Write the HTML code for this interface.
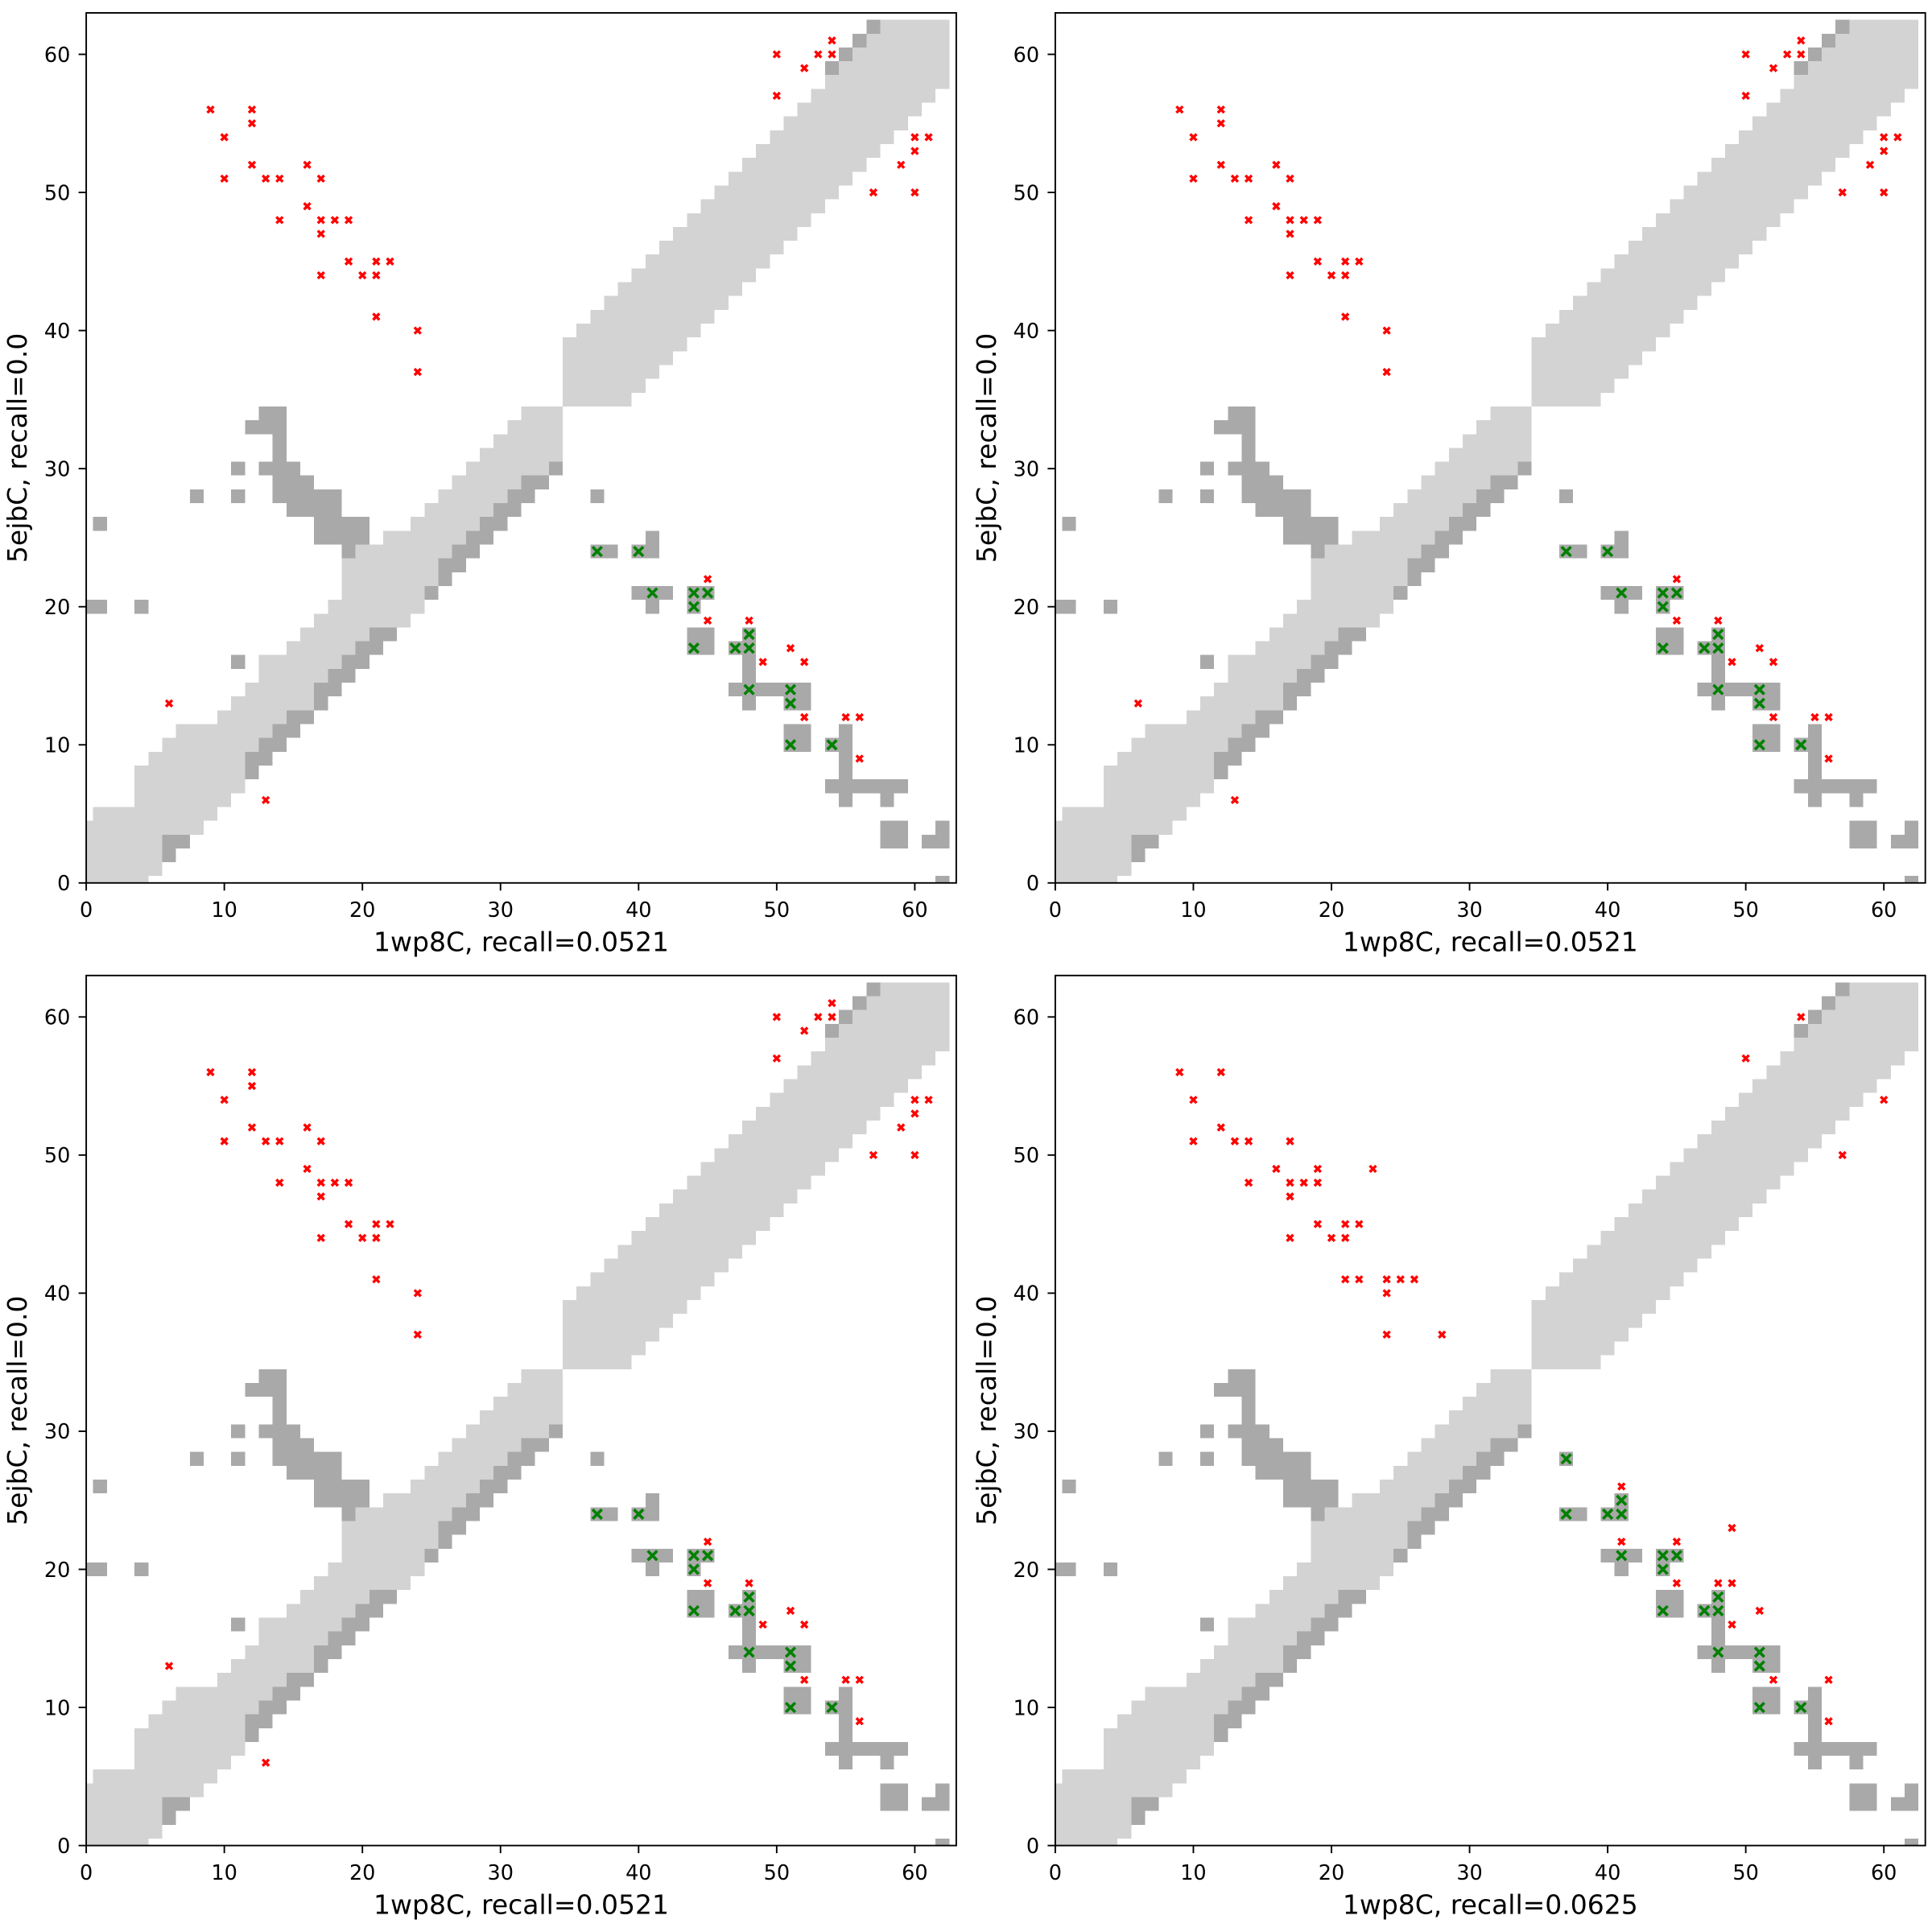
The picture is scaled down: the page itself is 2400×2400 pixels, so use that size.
<!DOCTYPE html>
<html><head><meta charset="utf-8"><style>
html,body{margin:0;padding:0;background:#fff;}
svg{display:block;}
text{font-family:"DejaVu Sans","Liberation Sans",sans-serif;fill:#000;}
.t{font-size:25.5px;}
.l{font-size:33px;}
.L{fill:#d3d3d3;}
.D{fill:#a9a9a9;}
</style></head><body>
<svg width="2400" height="2400" viewBox="0 0 2400 2400" xmlns="http://www.w3.org/2000/svg" xmlns:xlink="http://www.w3.org/1999/xlink">
<defs>
<clipPath id="cp"><rect x="0" y="0" width="63" height="63"/></clipPath>
<path id="rx" d="M-.23-.23L.23.23M-.23.23L.23-.23" stroke="#ff0000" stroke-width=".2" fill="none"/>
<path id="gx" d="M-.34-.34L.34.34M-.34.34L.34-.34" stroke="#008000" stroke-width=".21" fill="none"/>
<g id="cells" shape-rendering="crispEdges">
<g class="L">
<rect x="-0.5" y="-0.5" width="5" height="1"/>
<rect x="-0.5" y="0.5" width="6" height="1"/>
<rect x="-0.5" y="1.5" width="6" height="1"/>
<rect x="-0.5" y="2.5" width="6" height="1"/>
<rect x="-0.5" y="3.5" width="9" height="1"/>
<rect x="0.5" y="4.5" width="9" height="1"/>
<rect x="3.5" y="5.5" width="7" height="1"/>
<rect x="3.5" y="6.5" width="8" height="1"/>
<rect x="3.5" y="7.5" width="8" height="1"/>
<rect x="4.5" y="8.5" width="7" height="1"/>
<rect x="5.5" y="9.5" width="7" height="1"/>
<rect x="6.5" y="10.5" width="7" height="1"/>
<rect x="9.5" y="11.5" width="5" height="1"/>
<rect x="10.5" y="12.5" width="6" height="1"/>
<rect x="11.5" y="13.5" width="5" height="1"/>
<rect x="12.5" y="14.5" width="5" height="1"/>
<rect x="12.5" y="15.5" width="6" height="1"/>
<rect x="14.5" y="16.5" width="5" height="1"/>
<rect x="15.5" y="17.5" width="5" height="1"/>
<rect x="16.5" y="18.5" width="7" height="1"/>
<rect x="17.5" y="19.5" width="7" height="1"/>
<rect x="18.5" y="20.5" width="6" height="1"/>
<rect x="18.5" y="21.5" width="7" height="1"/>
<rect x="18.5" y="22.5" width="7" height="1"/>
<rect x="19.5" y="23.5" width="7" height="1"/>
<rect x="21.5" y="24.5" width="6" height="1"/>
<rect x="23.5" y="25.5" width="5" height="1"/>
<rect x="24.5" y="26.5" width="5" height="1"/>
<rect x="25.5" y="27.5" width="5" height="1"/>
<rect x="26.5" y="28.5" width="5" height="1"/>
<rect x="27.5" y="29.5" width="6" height="1"/>
<rect x="28.5" y="30.5" width="6" height="1"/>
<rect x="29.5" y="31.5" width="5" height="1"/>
<rect x="30.5" y="32.5" width="4" height="1"/>
<rect x="31.5" y="33.5" width="3" height="1"/>
<rect x="34.5" y="34.5" width="5" height="1"/>
<rect x="34.5" y="35.5" width="6" height="1"/>
<rect x="34.5" y="36.5" width="7" height="1"/>
<rect x="34.5" y="37.5" width="8" height="1"/>
<rect x="34.5" y="38.5" width="9" height="1"/>
<rect x="35.5" y="39.5" width="9" height="1"/>
<rect x="36.5" y="40.5" width="9" height="1"/>
<rect x="37.5" y="41.5" width="9" height="1"/>
<rect x="38.5" y="42.5" width="9" height="1"/>
<rect x="39.5" y="43.5" width="9" height="1"/>
<rect x="40.5" y="44.5" width="9" height="1"/>
<rect x="41.5" y="45.5" width="9" height="1"/>
<rect x="42.5" y="46.5" width="9" height="1"/>
<rect x="43.5" y="47.5" width="9" height="1"/>
<rect x="44.5" y="48.5" width="9" height="1"/>
<rect x="45.5" y="49.5" width="9" height="1"/>
<rect x="46.5" y="50.5" width="9" height="1"/>
<rect x="47.5" y="51.5" width="9" height="1"/>
<rect x="48.5" y="52.5" width="9" height="1"/>
<rect x="49.5" y="53.5" width="9" height="1"/>
<rect x="50.5" y="54.5" width="9" height="1"/>
<rect x="51.5" y="55.5" width="9" height="1"/>
<rect x="52.5" y="56.5" width="9" height="1"/>
<rect x="53.5" y="57.5" width="9" height="1"/>
<rect x="54.5" y="58.5" width="8" height="1"/>
<rect x="55.5" y="59.5" width="7" height="1"/>
<rect x="56.5" y="60.5" width="6" height="1"/>
<rect x="57.5" y="61.5" width="5" height="1"/>
</g>
<g class="D">
<rect x="5.5" y="1.5" width="1" height="1"/>
<rect x="5.5" y="2.5" width="2" height="1"/>
<rect x="11.5" y="7.5" width="1" height="1"/>
<rect x="11.5" y="8.5" width="2" height="1"/>
<rect x="12.5" y="9.5" width="2" height="1"/>
<rect x="13.5" y="10.5" width="2" height="1"/>
<rect x="14.5" y="11.5" width="2" height="1"/>
<rect x="16.5" y="12.5" width="1" height="1"/>
<rect x="16.5" y="13.5" width="2" height="1"/>
<rect x="17.5" y="14.5" width="2" height="1"/>
<rect x="18.5" y="15.5" width="2" height="1"/>
<rect x="10.5" y="15.5" width="1" height="1"/>
<rect x="19.5" y="16.5" width="2" height="1"/>
<rect x="20.5" y="17.5" width="2" height="1"/>
<rect x="-0.5" y="19.5" width="2" height="1"/>
<rect x="3.5" y="19.5" width="1" height="1"/>
<rect x="24.5" y="20.5" width="1" height="1"/>
<rect x="25.5" y="21.5" width="1" height="1"/>
<rect x="25.5" y="22.5" width="2" height="1"/>
<rect x="18.5" y="23.5" width="1" height="1"/>
<rect x="26.5" y="23.5" width="2" height="1"/>
<rect x="16.5" y="24.5" width="4" height="1"/>
<rect x="27.5" y="24.5" width="2" height="1"/>
<rect x="0.5" y="25.5" width="1" height="1"/>
<rect x="16.5" y="25.5" width="4" height="1"/>
<rect x="28.5" y="25.5" width="2" height="1"/>
<rect x="14.5" y="26.5" width="4" height="1"/>
<rect x="29.5" y="26.5" width="2" height="1"/>
<rect x="7.5" y="27.5" width="1" height="1"/>
<rect x="10.5" y="27.5" width="1" height="1"/>
<rect x="13.5" y="27.5" width="5" height="1"/>
<rect x="30.5" y="27.5" width="2" height="1"/>
<rect x="13.5" y="28.5" width="3" height="1"/>
<rect x="31.5" y="28.5" width="2" height="1"/>
<rect x="10.5" y="29.5" width="1" height="1"/>
<rect x="12.5" y="29.5" width="3" height="1"/>
<rect x="33.5" y="29.5" width="1" height="1"/>
<rect x="13.5" y="30.5" width="1" height="1"/>
<rect x="13.5" y="31.5" width="1" height="1"/>
<rect x="11.5" y="32.5" width="3" height="1"/>
<rect x="12.5" y="33.5" width="2" height="1"/>
<rect x="53.5" y="58.5" width="1" height="1"/>
<rect x="54.5" y="59.5" width="1" height="1"/>
<rect x="55.5" y="60.5" width="1" height="1"/>
<rect x="56.5" y="61.5" width="1" height="1"/>
<rect x="36.5" y="27.5" width="1" height="1"/>
<rect x="40.5" y="24.5" width="1" height="1"/>
<rect x="36.5" y="23.5" width="2" height="1"/>
<rect x="39.5" y="23.5" width="2" height="1"/>
<rect x="39.5" y="20.5" width="3" height="1"/>
<rect x="43.5" y="20.5" width="2" height="1"/>
<rect x="40.5" y="19.5" width="1" height="1"/>
<rect x="43.5" y="19.5" width="1" height="1"/>
<rect x="43.5" y="16.5" width="2" height="2"/>
<rect x="46.5" y="16.5" width="2" height="1"/>
<rect x="47.5" y="14.5" width="1" height="4"/>
<rect x="46.5" y="13.5" width="6" height="1"/>
<rect x="47.5" y="12.5" width="1" height="1"/>
<rect x="50.5" y="12.5" width="2" height="1"/>
<rect x="50.5" y="9.5" width="2" height="2"/>
<rect x="54.5" y="5.5" width="1" height="6"/>
<rect x="53.5" y="9.5" width="1" height="1"/>
<rect x="53.5" y="6.5" width="6" height="1"/>
<rect x="57.5" y="5.5" width="1" height="1"/>
<rect x="57.5" y="2.5" width="2" height="2"/>
<rect x="61.5" y="2.5" width="1" height="2"/>
<rect x="60.5" y="2.5" width="1" height="1"/>
<rect x="61.5" y="-0.5" width="1" height="1"/>
</g>
</g>
<g id="red1">
<use xlink:href="#rx" x="9" y="56"/><use xlink:href="#rx" x="10" y="54"/><use xlink:href="#rx" x="10" y="51"/>
<use xlink:href="#rx" x="12" y="56"/><use xlink:href="#rx" x="12" y="55"/><use xlink:href="#rx" x="12" y="52"/>
<use xlink:href="#rx" x="13" y="51"/><use xlink:href="#rx" x="14" y="51"/><use xlink:href="#rx" x="14" y="48"/>
<use xlink:href="#rx" x="16" y="52"/><use xlink:href="#rx" x="16" y="49"/><use xlink:href="#rx" x="17" y="51"/>
<use xlink:href="#rx" x="17" y="48"/><use xlink:href="#rx" x="17" y="47"/><use xlink:href="#rx" x="17" y="44"/>
<use xlink:href="#rx" x="18" y="48"/><use xlink:href="#rx" x="19" y="48"/><use xlink:href="#rx" x="19" y="45"/>
<use xlink:href="#rx" x="20" y="44"/><use xlink:href="#rx" x="21" y="45"/><use xlink:href="#rx" x="21" y="44"/>
<use xlink:href="#rx" x="22" y="45"/><use xlink:href="#rx" x="21" y="41"/><use xlink:href="#rx" x="24" y="40"/>
<use xlink:href="#rx" x="24" y="37"/>
<use xlink:href="#rx" x="50" y="60"/><use xlink:href="#rx" x="54" y="61"/><use xlink:href="#rx" x="53" y="60"/>
<use xlink:href="#rx" x="54" y="60"/><use xlink:href="#rx" x="52" y="59"/><use xlink:href="#rx" x="50" y="57"/>
<use xlink:href="#rx" x="60" y="54"/><use xlink:href="#rx" x="61" y="54"/><use xlink:href="#rx" x="60" y="53"/>
<use xlink:href="#rx" x="59" y="52"/><use xlink:href="#rx" x="57" y="50"/><use xlink:href="#rx" x="60" y="50"/>
<use xlink:href="#rx" x="6" y="13"/><use xlink:href="#rx" x="13" y="6"/>
<use xlink:href="#rx" x="45" y="22"/><use xlink:href="#rx" x="45" y="19"/><use xlink:href="#rx" x="48" y="19"/>
<use xlink:href="#rx" x="51" y="17"/><use xlink:href="#rx" x="49" y="16"/><use xlink:href="#rx" x="52" y="16"/>
<use xlink:href="#rx" x="52" y="12"/><use xlink:href="#rx" x="55" y="12"/><use xlink:href="#rx" x="56" y="12"/>
<use xlink:href="#rx" x="56" y="9"/>
</g>
<g id="green1">
<use xlink:href="#gx" x="37" y="24"/><use xlink:href="#gx" x="40" y="24"/><use xlink:href="#gx" x="41" y="21"/>
<use xlink:href="#gx" x="44" y="21"/><use xlink:href="#gx" x="45" y="21"/><use xlink:href="#gx" x="44" y="20"/>
<use xlink:href="#gx" x="44" y="17"/><use xlink:href="#gx" x="47" y="17"/><use xlink:href="#gx" x="48" y="17"/>
<use xlink:href="#gx" x="48" y="18"/><use xlink:href="#gx" x="48" y="14"/><use xlink:href="#gx" x="51" y="14"/>
<use xlink:href="#gx" x="51" y="13"/><use xlink:href="#gx" x="51" y="10"/><use xlink:href="#gx" x="54" y="10"/>
</g>
<g id="axes">
<rect x="0" y="0" width="1080.8" height="1080.8" fill="none" stroke="#000" stroke-width="1.9"/>
<g stroke="#000" stroke-width="1.9">
<line x1="0" y1="1080.8" x2="0" y2="1090.3"/><line x1="171.55" y1="1080.8" x2="171.55" y2="1090.3"/>
<line x1="343.1" y1="1080.8" x2="343.1" y2="1090.3"/><line x1="514.65" y1="1080.8" x2="514.65" y2="1090.3"/>
<line x1="686.2" y1="1080.8" x2="686.2" y2="1090.3"/><line x1="857.75" y1="1080.8" x2="857.75" y2="1090.3"/>
<line x1="1029.3" y1="1080.8" x2="1029.3" y2="1090.3"/>
<line x1="-9.5" y1="1080.8" x2="0" y2="1080.8"/><line x1="-9.5" y1="909.25" x2="0" y2="909.25"/>
<line x1="-9.5" y1="737.7" x2="0" y2="737.7"/><line x1="-9.5" y1="566.15" x2="0" y2="566.15"/>
<line x1="-9.5" y1="394.6" x2="0" y2="394.6"/><line x1="-9.5" y1="223.05" x2="0" y2="223.05"/>
<line x1="-9.5" y1="51.5" x2="0" y2="51.5"/>
</g>
<g class="t" text-anchor="middle">
<text x="0" y="1123">0</text><text x="171.55" y="1123">10</text><text x="343.1" y="1123">20</text>
<text x="514.65" y="1123">30</text><text x="686.2" y="1123">40</text><text x="857.75" y="1123">50</text>
<text x="1029.3" y="1123">60</text>
</g>
<g class="t" text-anchor="end">
<text x="-19.8" y="1090">0</text><text x="-19.8" y="918.5">10</text><text x="-19.8" y="747">20</text>
<text x="-19.8" y="575.4">30</text><text x="-19.8" y="403.9">40</text><text x="-19.8" y="232.3">50</text>
<text x="-19.8" y="60.8">60</text>
</g>
</g>
</defs>

<g transform="translate(107.1,16)">
<g transform="translate(0,1080.8) scale(17.155,-17.155)"><g clip-path="url(#cp)"><use xlink:href="#cells"/><use xlink:href="#red1"/><use xlink:href="#green1"/></g></g>
<use xlink:href="#axes"/>
<text class="l" x="540.4" y="1165.7" text-anchor="middle">1wp8C, recall=0.0521</text>
<text class="l" transform="translate(-74,540.4) rotate(-90)" text-anchor="middle">5ejbC, recall=0.0</text>
</g>

<g transform="translate(1310.9,16)">
<g transform="translate(0,1080.8) scale(17.155,-17.155)"><g clip-path="url(#cp)"><use xlink:href="#cells"/><use xlink:href="#red1"/><use xlink:href="#green1"/></g></g>
<use xlink:href="#axes"/>
<text class="l" x="540.4" y="1165.7" text-anchor="middle">1wp8C, recall=0.0521</text>
<text class="l" transform="translate(-74,540.4) rotate(-90)" text-anchor="middle">5ejbC, recall=0.0</text>
</g>

<g transform="translate(107.1,1211.8)">
<g transform="translate(0,1080.8) scale(17.155,-17.155)"><g clip-path="url(#cp)"><use xlink:href="#cells"/><use xlink:href="#red1"/><use xlink:href="#green1"/></g></g>
<use xlink:href="#axes"/>
<text class="l" x="540.4" y="1165.7" text-anchor="middle">1wp8C, recall=0.0521</text>
<text class="l" transform="translate(-74,540.4) rotate(-90)" text-anchor="middle">5ejbC, recall=0.0</text>
</g>

<g transform="translate(1310.9,1211.8)">
<g transform="translate(0,1080.8) scale(17.155,-17.155)"><g clip-path="url(#cp)"><use xlink:href="#cells"/>
<g>
<use xlink:href="#rx" x="9" y="56"/><use xlink:href="#rx" x="12" y="56"/><use xlink:href="#rx" x="10" y="54"/>
<use xlink:href="#rx" x="12" y="52"/><use xlink:href="#rx" x="10" y="51"/><use xlink:href="#rx" x="13" y="51"/>
<use xlink:href="#rx" x="14" y="51"/><use xlink:href="#rx" x="17" y="51"/><use xlink:href="#rx" x="16" y="49"/>
<use xlink:href="#rx" x="19" y="49"/><use xlink:href="#rx" x="23" y="49"/><use xlink:href="#rx" x="14" y="48"/>
<use xlink:href="#rx" x="17" y="48"/><use xlink:href="#rx" x="18" y="48"/><use xlink:href="#rx" x="19" y="48"/>
<use xlink:href="#rx" x="17" y="47"/><use xlink:href="#rx" x="19" y="45"/><use xlink:href="#rx" x="21" y="45"/>
<use xlink:href="#rx" x="22" y="45"/><use xlink:href="#rx" x="17" y="44"/><use xlink:href="#rx" x="20" y="44"/>
<use xlink:href="#rx" x="21" y="44"/><use xlink:href="#rx" x="21" y="41"/><use xlink:href="#rx" x="22" y="41"/>
<use xlink:href="#rx" x="24" y="41"/><use xlink:href="#rx" x="25" y="41"/><use xlink:href="#rx" x="26" y="41"/>
<use xlink:href="#rx" x="24" y="40"/><use xlink:href="#rx" x="24" y="37"/><use xlink:href="#rx" x="28" y="37"/>
<use xlink:href="#rx" x="54" y="60"/><use xlink:href="#rx" x="50" y="57"/><use xlink:href="#rx" x="60" y="54"/>
<use xlink:href="#rx" x="57" y="50"/>
<use xlink:href="#rx" x="41" y="26"/><use xlink:href="#rx" x="49" y="23"/><use xlink:href="#rx" x="41" y="22"/>
<use xlink:href="#rx" x="45" y="22"/><use xlink:href="#rx" x="45" y="19"/><use xlink:href="#rx" x="48" y="19"/>
<use xlink:href="#rx" x="49" y="19"/><use xlink:href="#rx" x="51" y="17"/><use xlink:href="#rx" x="49" y="16"/>
<use xlink:href="#rx" x="52" y="12"/><use xlink:href="#rx" x="56" y="12"/><use xlink:href="#rx" x="56" y="9"/>
</g>
<use xlink:href="#green1"/>
<use xlink:href="#gx" x="37" y="28"/><use xlink:href="#gx" x="41" y="25"/><use xlink:href="#gx" x="41" y="24"/>
</g></g>
<use xlink:href="#axes"/>
<text class="l" x="540.4" y="1165.7" text-anchor="middle">1wp8C, recall=0.0625</text>
<text class="l" transform="translate(-74,540.4) rotate(-90)" text-anchor="middle">5ejbC, recall=0.0</text>
</g>
</svg>
</body></html>
